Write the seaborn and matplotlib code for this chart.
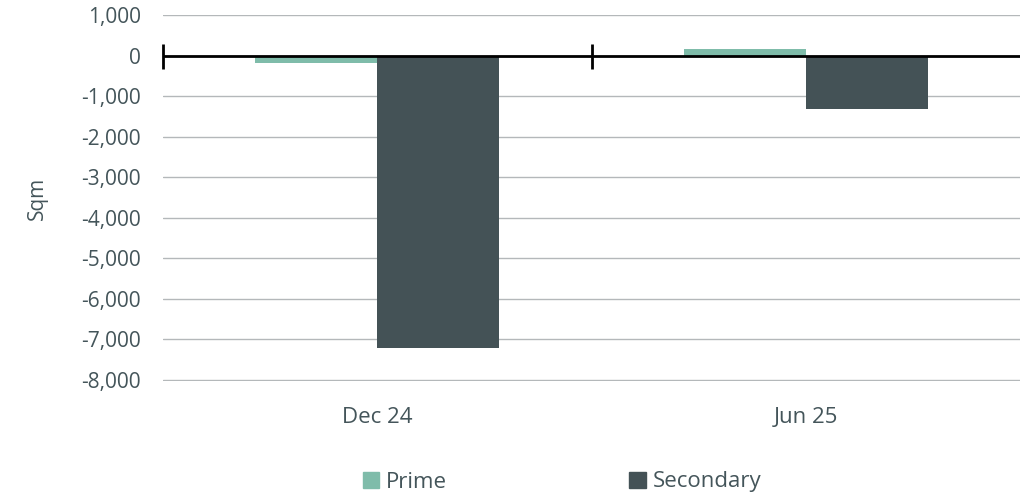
import pandas as pd
import numpy as np
import matplotlib
matplotlib.use('Agg')
import matplotlib.pyplot as plt
import seaborn as sns
from matplotlib.ticker import FuncFormatter

periods = ['Dec 24', 'Jun 25']
prime = [-180, 150]
secondary = [-7210, -1310]
series = ['Prime', 'Secondary']
colors = ['#7fbcaa', '#445256']
text_color = '#44555a'

df = pd.DataFrame({
    'period': periods * 2,
    'value': prime + secondary,
    'series': [series[0]] * 2 + [series[1]] * 2,
})

sns.set_style('white')
plt.rcParams['font.family'] = ['Open Sans', 'DejaVu Sans']

fig = plt.figure(figsize=(10.22, 4.97), dpi=100)
ax = fig.add_axes([163 / 1022, 1 - 381 / 497, (1020 - 163) / 1022, (381 - 15) / 497])

sns.barplot(data=df, x='period', y='value', hue='series', palette=colors,
            width=0.57, gap=0, saturation=1, linewidth=0, ax=ax, legend=False)

ax.set_xlim(-0.5, 1.5)
ax.set_ylim(-8030, 1000)
ax.set_yticks(np.arange(-8000, 1001, 1000))
ax.yaxis.set_major_formatter(FuncFormatter(lambda v, p: f'{v:,.0f}'))
ax.grid(axis='y', color='#b4b8ba', lw=1)
ax.set_axisbelow(True)
for s in ax.spines.values():
    s.set_visible(False)

ax.tick_params(axis='y', length=0, labelsize=15, labelcolor=text_color, pad=16)
ax.tick_params(axis='x', length=0, labelsize=16, labelcolor=text_color, pad=19)
ax.set_xlabel('')
ax.set_ylabel('Sqm', fontsize=15, color=text_color, labelpad=24)

# zero line with category boundary ticks
ax.axhline(0, color='black', lw=2, zorder=4)
sec = ax.secondary_xaxis(0, transform=ax.transData)
sec.set_xticks([-0.5, 0.5])
sec.set_xticklabels([])
sec.tick_params(direction='inout', length=18, width=2, color='black')
sec.spines['bottom'].set_visible(False)

handles = [plt.Rectangle((0, 0), 1, 1, color=c) for c in colors]
fig.legend(handles, series, loc='center', bbox_to_anchor=(562 / 1022, 1 - 482 / 497),
           ncol=2, frameon=False, fontsize=16, columnspacing=8.2,
           handlelength=0.75, handleheight=0.75, handletextpad=0.3,
           labelcolor=text_color)

fig.savefig('out.png', dpi=100)
